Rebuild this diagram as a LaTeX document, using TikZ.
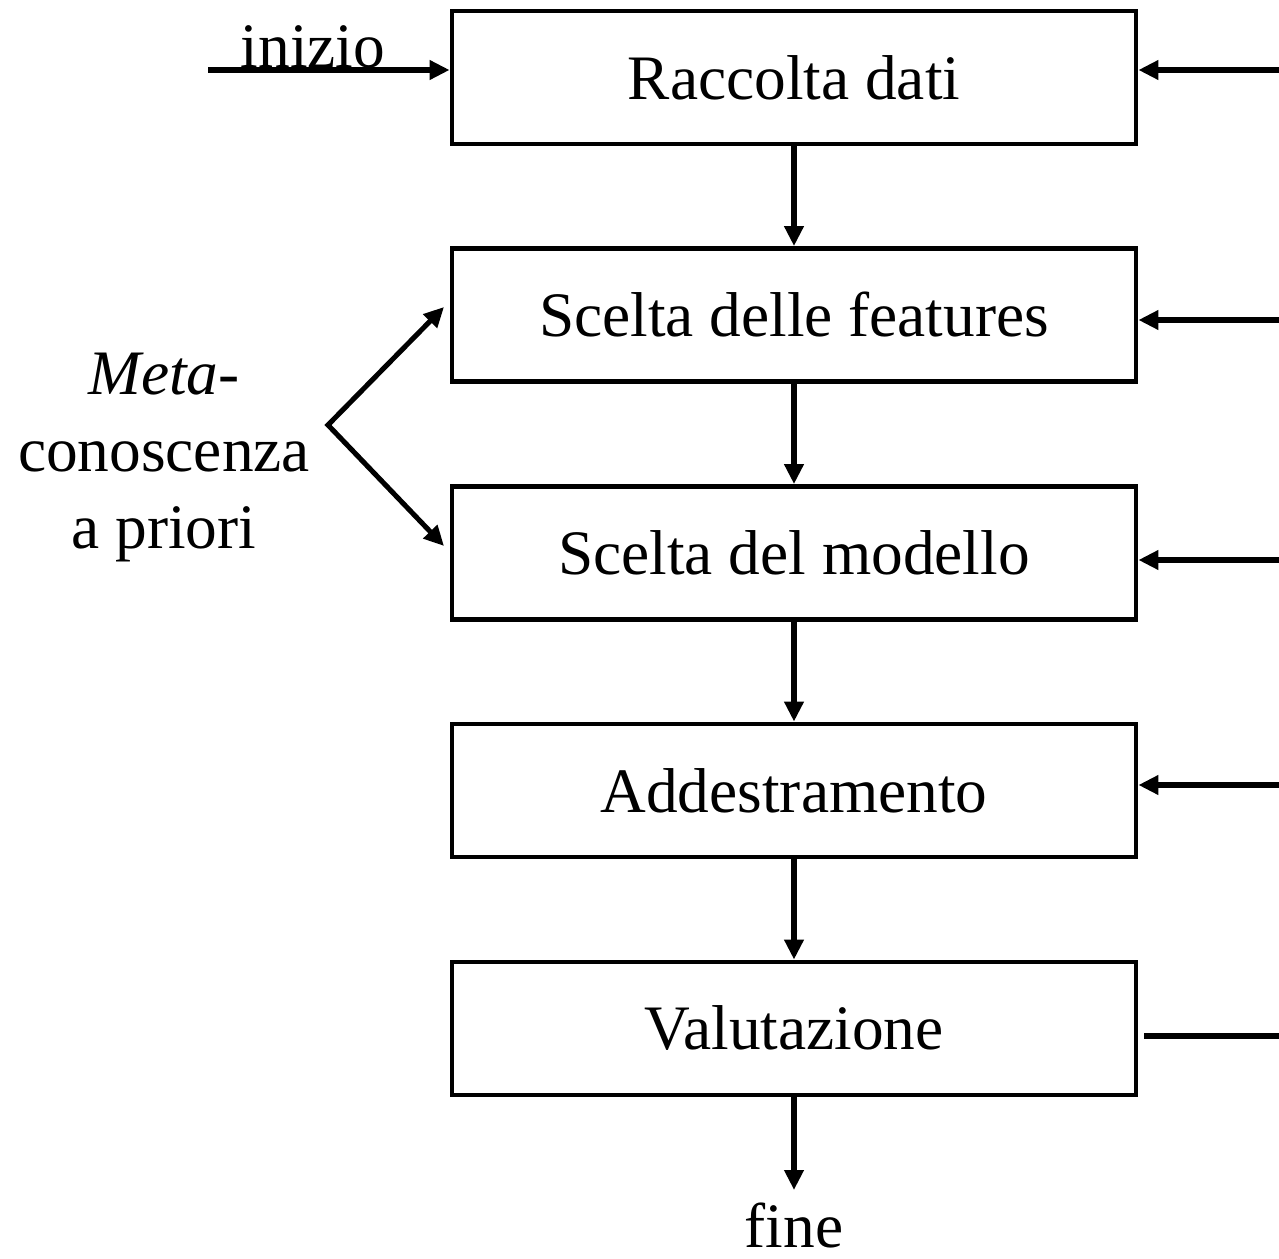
\documentclass[tikz,border=0pt]{standalone}
\usepackage{fontspec}
\setmainfont{Liberation Serif}
\usetikzlibrary{arrows.meta}
\begin{document}
\begin{tikzpicture}[x=0.75pt,y=-0.75pt,
  font=\fontsize{47.5pt}{57.75pt}\selectfont,
  stepbox/.style={draw,line width=3.6pt,rectangle,minimum width=684*0.75pt,minimum height=133*0.75pt,inner sep=0pt},
  conn/.style={line width=3.8pt,-{Triangle[length=15pt,width=14pt]}},
  plain/.style={line width=3.8pt}]
\useasboundingbox (0,0) rectangle (1279,1259);
\node[stepbox] (b1) at (794,77.5) {Raccolta dati};
\node[stepbox] (b2) at (794,315) {Scelta delle features};
\node[stepbox] (b3) at (794,553) {Scelta del modello};
\node[stepbox] (b4) at (794,790.5) {Addestramento};
\node[stepbox] (b5) at (794,1028.5) {Valutazione};
\draw[conn] (b1) -- (b2);
\draw[conn] (b2) -- (b3);
\draw[conn] (b3) -- (b4);
\draw[conn] (b4) -- (b5);
\coordinate (fe) at (794,1190);
\draw[conn] (b5) -- (fe);
\node[anchor=base,inner sep=0pt,text depth=0pt] (fine) at (794,1247) {fine};
% right side
\coordinate (r1) at (1281,70);
\coordinate (r2) at (1281,320);
\coordinate (r3) at (1281,560);
\coordinate (r4) at (1281,785);
\coordinate (r5) at (1281,1036);
\draw[conn] (r1) -- (b1.east |- r1);
\draw[conn] (r2) -- (b2.east |- r2);
\draw[conn] (r3) -- (b3.east |- r3);
\draw[conn] (r4) -- (b4.east |- r4);
\draw[plain] (b5.east |- r5) ++(6,0) -- (r5);
% inizio
\coordinate (is) at (208,70);
\draw[conn] (is) -- (b1.west |- is);
\node[anchor=base] (inizio) at (313,68) {inizio};
% meta
\coordinate (v) at (328,425);
\coordinate (m1) at (444,307);
\coordinate (m2) at (444,546);
\draw[conn,{Triangle[length=15pt,width=14pt]}-{Triangle[length=15pt,width=14pt]},line join=miter] (m1) -- (v) -- (m2);
\node[align=center,anchor=center] (meta) at (164,458) {\textit{Meta}-\\conoscenza\\a priori};
\end{tikzpicture}
\end{document}
